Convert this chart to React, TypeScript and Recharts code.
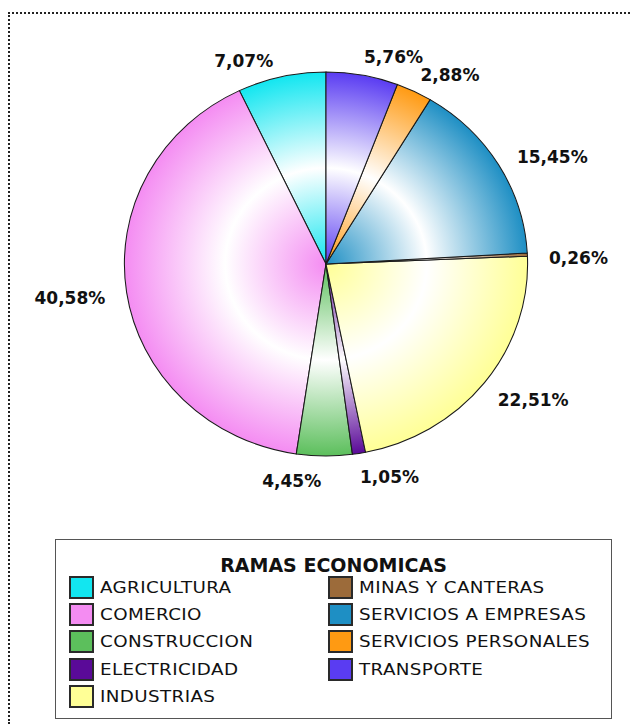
import { PieChart, Pie, Cell, Legend } from "recharts";

const categories = [
  "AGRICULTURA",
  "COMERCIO",
  "CONSTRUCCION",
  "ELECTRICIDAD",
  "INDUSTRIAS",
  "MINAS Y CANTERAS",
  "SERVICIOS A EMPRESAS",
  "SERVICIOS PERSONALES",
  "TRANSPORTE",
];
const shares = [7.07, 40.58, 4.45, 1.05, 22.51, 0.26, 15.45, 2.88, 5.76];
const colors = [
  "#12e6f0",
  "#f48cf2",
  "#5cbf5c",
  "#5a0a98",
  "#ffff96",
  "#9c6b3a",
  "#1e8fc4",
  "#ff9a12",
  "#5a3cf2",
];
const legendTitle = "RAMAS ECONOMICAS";

const data = categories.map((name, i) => ({ name, value: shares[i] }));

const CX = 326;
const CY = 264;
const R = 192;
const STRETCH = 1.05;

// small angle shifts (degrees, clockwise) so labels sit where the original put them
const labelNudge = [-9.3, 1, 8.5, -7.2, -4.9, 1.4, 5.8, 7.4, 7.7];

const fmt = (v: number) => v.toFixed(2).replace(".", ",") + "%";

const renderLabel = (props: any) => {
  const { cx, cy, midAngle, outerRadius, index, value } = props;
  const text = fmt(value);
  const phi = ((90 - midAngle + labelNudge[index]) * Math.PI) / 180;
  const s2 = Math.sin(phi) ** 2;
  const c = Math.cos(phi);
  const edge = outerRadius + outerRadius * (STRETCH - 1) * s2;
  const r = edge + 22 + 5 * Math.max(0, -c) + text.length * 5.8 * s2;
  const x = cx + r * Math.sin(phi);
  const y = cy - r * c;
  return (
    <text
      x={x}
      y={y}
      textAnchor="middle"
      dominantBaseline="central"
      fill="#111"
      style={{ fontFamily: "'DejaVu Sans', sans-serif", fontWeight: 700, fontSize: 17 }}
    >
      {text}
    </text>
  );
};

const LegendBox = () => {
  const textStyle = {
    position: "absolute" as const,
    fontFamily: "'DejaVu Sans', sans-serif",
    fontSize: 15,
    letterSpacing: 0.3,
    lineHeight: "24px",
    color: "#111",
    whiteSpace: "nowrap" as const,
    transform: "scaleX(1.22)",
    transformOrigin: "left center",
  };
  return (
    <div
      style={{
        position: "relative",
        width: 557,
        height: 180,
        boxSizing: "border-box",
        border: "1px solid #555",
        background: "#fff",
      }}
    >
      <div
        style={{
          position: "absolute",
          top: 13,
          left: 0,
          right: 0,
          textAlign: "center",
          fontFamily: "'DejaVu Sans', sans-serif",
          fontWeight: 700,
          fontSize: 19,
          color: "#111",
          lineHeight: "24px",
        }}
      >
        {legendTitle}
      </div>
      {categories.map((name, i) => {
        const col = i < 5 ? 0 : 1;
        const row = col === 0 ? i : i - 5;
        const top = 36 + row * 27.2;
        const swatchLeft = col === 0 ? 13 : 272;
        return (
          <div key={name}>
            <div
              style={{
                position: "absolute",
                left: swatchLeft,
                top,
                width: 25,
                height: 23,
                boxSizing: "border-box",
                border: "2px solid #2a2a2a",
                background: colors[i],
              }}
            />
            <div style={{ ...textStyle, left: swatchLeft + 31, top }}>{name}</div>
          </div>
        );
      })}
    </div>
  );
};

export default function App() {
  return (
    <div style={{ position: "relative", width: 630, height: 726, background: "#fff" }}>
      <style>{`
        body { margin: 0; overflow: hidden; }
        .recharts-pie-sector { transform-origin: ${CX}px ${CY}px; transform: scaleX(${STRETCH}); }
      `}</style>
      <div
        style={{
          position: "absolute",
          left: 8,
          top: 12,
          width: 640,
          height: 710,
          borderTop: "2px dotted #222",
          borderLeft: "2px dotted #222",
        }}
      />
      <div style={{ position: "absolute", left: 0, top: 0 }}>
        <PieChart width={630} height={726} margin={{ top: 0, right: 0, bottom: 0, left: 0 }}>
          <defs>
            {colors.map((c, i) => (
              <radialGradient
                key={i}
                id={`shade${i}`}
                gradientUnits="userSpaceOnUse"
                cx={CX}
                cy={CY}
                r={R}
              >
                <stop offset="0%" stopColor={c} />
                <stop offset="50%" stopColor="#ffffff" />
                <stop offset="100%" stopColor={c} />
              </radialGradient>
            ))}
          </defs>
          <Pie
            data={data}
            dataKey="value"
            nameKey="name"
            cx={CX}
            cy={CY}
            outerRadius={R}
            startAngle={90}
            endAngle={450}
            stroke="#1a1a1a"
            strokeWidth={1}
            label={renderLabel}
            labelLine={false}
            isAnimationActive={false}
          >
            {data.map((d, i) => (
              <Cell key={d.name} fill={`url(#shade${i})`} />
            ))}
          </Pie>
          <Legend
            content={() => <LegendBox />}
            wrapperStyle={{ left: 55, top: 539, width: 557, height: 180 }}
          />
        </PieChart>
      </div>
    </div>
  );
}
